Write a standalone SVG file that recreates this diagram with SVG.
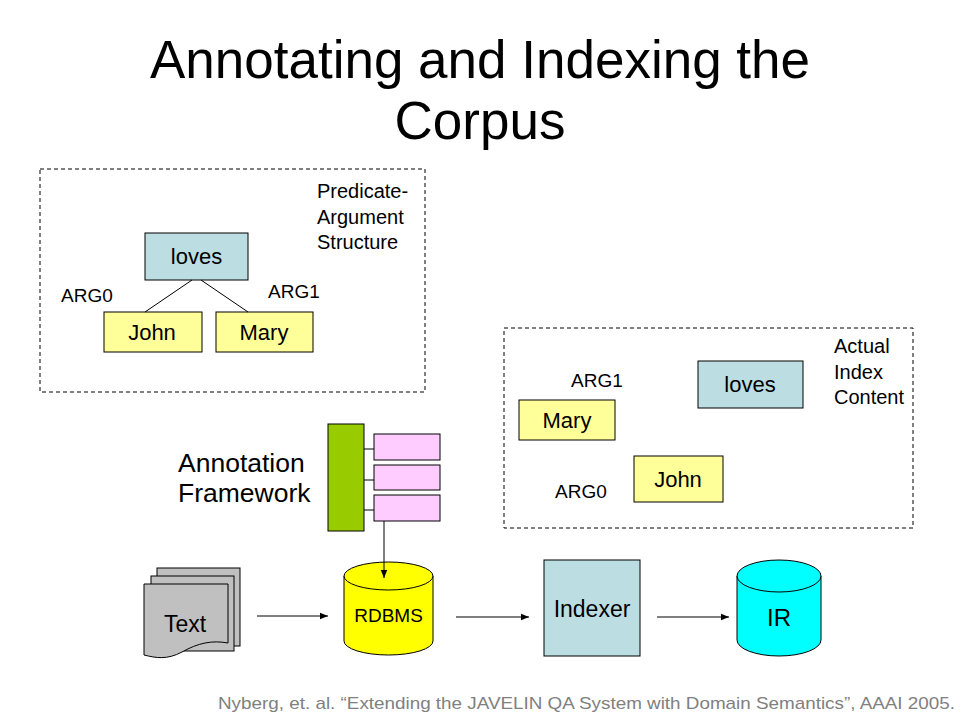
<svg xmlns="http://www.w3.org/2000/svg" width="960" height="720" viewBox="0 0 960 720">
<defs>
<style>
text{font-family:"Liberation Sans",Arial,sans-serif;fill:#000}
.t{font-size:53px;text-anchor:middle}
.lbl{font-size:19px}
.side{font-size:20px}
.n{font-size:22px;text-anchor:middle}
.box{stroke:#000;stroke-width:1}
.dash{fill:none;stroke:#000;stroke-width:1;stroke-dasharray:4,3}
.ln{stroke:#000;stroke-width:1;fill:none}
.blue{fill:#bcdee2}
.yel{fill:#ffff99}
</style>
<marker id="ah" viewBox="0 0 10 10" refX="10" refY="5" markerWidth="8" markerHeight="8" markerUnits="userSpaceOnUse" orient="auto">
<path d="M0,1 L10,5 L0,9 Z" fill="#000"/>
</marker>
</defs>
<rect width="960" height="720" fill="#fff"/>
<g id="title">
<text class="t" x="480" y="78">Annotating and Indexing the</text>
<text class="t" x="480" y="139">Corpus</text>
</g>
<g id="pas-frame">
<rect class="dash" x="40" y="169" width="385" height="223"/>
<text class="side" x="317" y="198">Predicate-</text>
<text class="side" x="317" y="224">Argument</text>
<text class="side" x="317" y="249">Structure</text>
<text class="lbl" x="61" y="302">ARG0</text>
<text class="lbl" x="268" y="298">ARG1</text>
</g>
<g id="loves1">
<rect class="box blue" x="145" y="233" width="103" height="47"/>
<text class="n" x="196.5" y="264">loves</text>
</g>
<g id="john1">
<rect class="box yel" x="104" y="312" width="98" height="40"/>
<text class="n" x="152" y="340">John</text>
</g>
<g id="mary1">
<rect class="box yel" x="216" y="312" width="97" height="40"/>
<text class="n" x="264" y="340">Mary</text>
</g>
<g id="index-frame">
<rect class="dash" x="504" y="328" width="409" height="200"/>
<text class="side" x="834" y="353">Actual</text>
<text class="side" x="834" y="379">Index</text>
<text class="side" x="834" y="404">Content</text>
<text class="lbl" x="571" y="387">ARG1</text>
<text class="lbl" x="555" y="498">ARG0</text>
</g>
<g id="loves2">
<rect class="box blue" x="698" y="361" width="105" height="47"/>
<text class="n" x="750" y="392">loves</text>
</g>
<g id="mary2">
<rect class="box yel" x="519" y="400" width="96" height="40"/>
<text class="n" x="567" y="428">Mary</text>
</g>
<g id="john2">
<rect class="box yel" x="634" y="456" width="89" height="46"/>
<text class="n" x="678" y="487">John</text>
</g>
<g id="annotation-framework">
<text x="178" y="472" font-size="26.5">Annotation</text>
<text x="178" y="502" font-size="26.5">Framework</text>
<rect class="box" x="328" y="424" width="36" height="107" fill="#99cc00"/>
<rect class="box" x="374" y="434" width="66" height="26" fill="#ffccff"/>
<rect class="box" x="374" y="465" width="66" height="25" fill="#ffccff"/>
<rect class="box" x="374" y="495" width="66" height="26" fill="#ffccff"/>
</g>
<g id="text-docs">
<rect class="box" x="157" y="568" width="83" height="78" fill="#c0c0c0"/>
<rect class="box" x="151" y="576" width="83" height="75" fill="#c0c0c0"/>
<path class="box" d="M144,584 H228 V643 C212,640 198,643 182,652 C167,660 156,658 144,655 Z" fill="#c0c0c0"/>
<text x="185" y="632" font-size="23" text-anchor="middle">Text</text>
</g>
<g id="rdbms">
<path class="box" d="M344,576 V641 A44.5,14 0 0 0 433,641 V576 Z" fill="#ffff00"/>
<ellipse class="box" cx="388.5" cy="576" rx="44.5" ry="14" fill="#ffff00"/>
<text x="388.5" y="622" font-size="19" text-anchor="middle">RDBMS</text>
</g>
<g id="indexer">
<rect class="box" x="544" y="560" width="96" height="96" fill="#bcdee2"/>
<text x="592" y="617" font-size="23" text-anchor="middle">Indexer</text>
</g>
<g id="ir">
<path class="box" d="M737,576 V640 A42,16 0 0 0 821,640 V576 Z" fill="#00ffff"/>
<ellipse class="box" cx="779" cy="576" rx="42" ry="16" fill="#00ffff"/>
<text x="779" y="626" font-size="24" text-anchor="middle">IR</text>
</g>
<g id="connectors">
<line class="ln" x1="192" y1="280" x2="145" y2="312"/>
<line class="ln" x1="201" y1="280" x2="248" y2="312"/>
<line class="ln" x1="364" y1="449" x2="374" y2="449"/>
<line class="ln" x1="364" y1="480" x2="374" y2="480"/>
<line class="ln" x1="364" y1="510" x2="374" y2="510"/>
<line class="ln" x1="384" y1="521" x2="384" y2="578" marker-end="url(#ah)"/>
<line class="ln" x1="257" y1="616" x2="328" y2="616" marker-end="url(#ah)"/>
<line class="ln" x1="456" y1="617" x2="529" y2="617" marker-end="url(#ah)"/>
<line class="ln" x1="657" y1="617" x2="729" y2="617" marker-end="url(#ah)"/>
</g>
<g id="footer">
<text x="218" y="709" font-size="17" style="fill:#808080" textLength="737" lengthAdjust="spacingAndGlyphs">Nyberg, et. al. “Extending the JAVELIN QA System with Domain Semantics”, AAAI 2005.</text>
</g>
</svg>
